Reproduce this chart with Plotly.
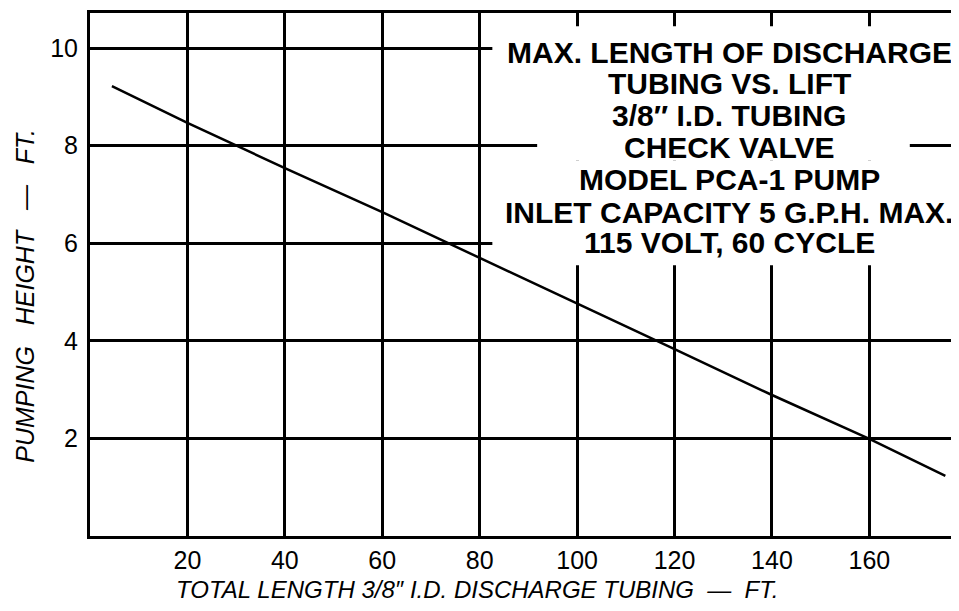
import plotly.graph_objects as go

# Data
tubing_length_ft = [4.5, 20, 40, 60, 80, 100, 120, 140, 160, 175.6]
pumping_height_ft = [9.22, 8.47, 7.54, 6.64, 5.70, 4.77, 3.83, 2.89, 1.99, 1.23]

x_ticks = [20, 40, 60, 80, 100, 120, 140, 160]
y_ticks = [2, 4, 6, 8, 10]

info_lines = [
    "MAX. LENGTH OF DISCHARGE",
    "TUBING VS. LIFT",
    "3/8\u2033 I.D. TUBING",
    "CHECK VALVE",
    "MODEL PCA-1 PUMP",
    "INLET CAPACITY 5 G.P.H. MAX.",
    "115 VOLT, 60 CYCLE",
]

x_title = "TOTAL LENGTH 3/8\u2033 I.D. DISCHARGE TUBING \u00a0\u2014\u00a0 FT."
y_title = "PUMPING\u00a0\u00a0 HEIGHT\u00a0\u00a0 \u2014\u00a0\u00a0 FT."

FONT = "Liberation Sans, Arial, sans-serif"

fig = go.Figure()
fig.add_trace(go.Scatter(
    x=tubing_length_ft, y=pumping_height_ft, mode="lines",
    line=dict(color="black", width=2.5), showlegend=False, hoverinfo="skip"))

# white patches hiding the grid behind the text block
for x0, x1, y0, y1 in [(82.6, 180, 8.3, 10.45), (91.8, 168.3, 7.7, 8.3), (82.6, 180, 5.55, 7.7)]:
    fig.add_shape(type="rect", x0=x0, x1=x1, y0=y0, y1=y1, xref="x", yref="y",
                  fillcolor="white", line=dict(width=0), layer="between")

line_y = [9.92, 9.27, 8.62, 7.96, 7.30, 6.64, 6.02]
for txt, yy in zip(info_lines, line_y):
    fig.add_annotation(x=131.2, y=yy, xref="x", yref="y", text=txt, showarrow=False,
                       xanchor="center", yanchor="middle",
                       font=dict(family=FONT, size=30, color="black", weight="bold"))

fig.add_annotation(x=79.5, y=-0.103, xref="x", yref="paper", text="<i>" + x_title + "</i>",
                   showarrow=False, xanchor="center", yanchor="middle",
                   font=dict(family=FONT, size=24, color="black"))
fig.add_annotation(x=-0.075, y=4.92, xref="paper", yref="y", text="<i>" + y_title + "</i>",
                   showarrow=False, xanchor="center", yanchor="middle", textangle=-90,
                   font=dict(family=FONT, size=25, color="black"))

# page body has an 8px default margin, so the figure is sized to fit inside
fig.update_layout(
    width=951, height=603,
    margin=dict(l=82, r=0, t=5, b=75),
    paper_bgcolor="white", plot_bgcolor="white",
    font=dict(family=FONT, color="black"),
)
fig.update_xaxes(range=[0, 178.4], tickvals=x_ticks, ticks="", showgrid=True,
                 gridcolor="black", gridwidth=2.5, showline=True, linecolor="black",
                 linewidth=3, mirror=True, zeroline=False,
                 tickfont=dict(size=25, family=FONT), ticklabelstandoff=0)
fig.update_yaxes(range=[0, 10.72], tickvals=y_ticks, ticks="", showgrid=True,
                 gridcolor="black", gridwidth=2.5, showline=True, linecolor="black",
                 linewidth=3, mirror=False, zeroline=False,
                 tickfont=dict(size=25, family=FONT), ticklabelstandoff=4)

fig.write_html("out.html")
